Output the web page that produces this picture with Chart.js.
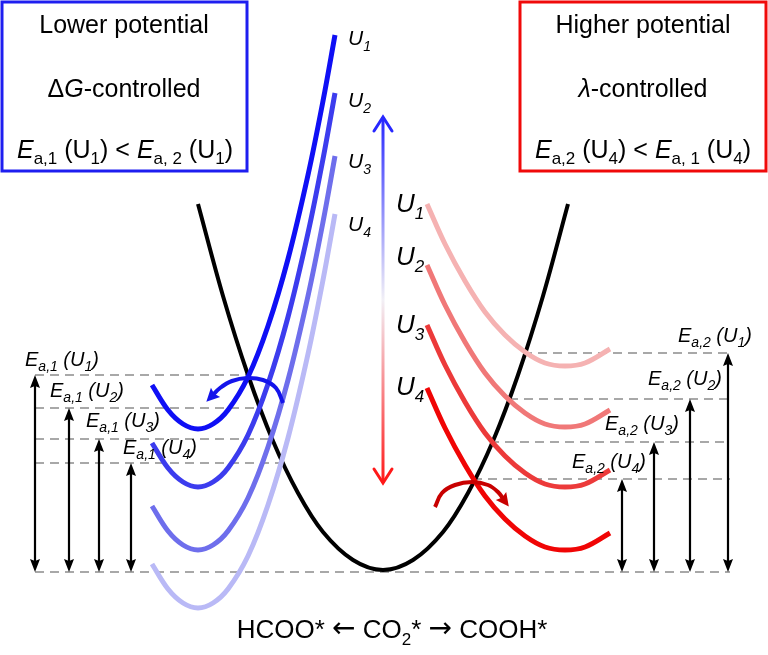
<!DOCTYPE html>
<html>
<head>
<meta charset="utf-8">
<script src="https://cdn.jsdelivr.net/npm/chart.js@4.4.1/dist/chart.umd.min.js"></script>
<style>
  html, body { margin: 0; padding: 0; background: #fff; }
  #chartCanvas { display: block; }
</style>
</head>
<body>
<canvas id="chartCanvas" width="768" height="655"></canvas>
<script>
// free energy curves (x to the right, y downwards)
const blackX = [198, 223, 248, 273, 298, 323, 353, 383, 413, 443, 468, 493, 518, 543, 568];
const blackY = [204, 296, 375, 441, 493, 532, 560, 570, 560, 532, 493, 441, 375, 296, 204];

const blueX = [152, 168, 183, 198, 213, 228, 248, 268, 288, 308, 323, 335];
const blueU1 = [385, 410, 424, 429, 424, 410, 377, 326, 259, 175, 101, 35];
const blueU2 = [443, 468, 482, 487, 482, 468, 435, 384, 317, 233, 159, 93];
const blueU3 = [506, 531, 545, 550, 545, 531, 498, 447, 380, 296, 222, 156];
const blueU4 = [564, 589, 603, 608, 603, 589, 556, 505, 438, 354, 280, 214];

const redX = [427, 445, 465, 485, 505, 525, 545, 565, 585, 610];
const redU1 = [204, 244, 281, 312, 335, 352, 363, 366, 363, 349];
const redU2 = [265, 305, 342, 373, 396, 413, 424, 427, 424, 410];
const redU3 = [325, 365, 402, 433, 456, 473, 484, 487, 484, 470];
const redU4 = [388, 428, 465, 496, 519, 536, 547, 550, 547, 533];

// barrier levels and the double arrows
const baseLevel = 572;
const leftLevels = [375, 408, 439, 463];
const leftCrossX = [247, 258, 272, 282];
const leftArrowX = [35, 69, 99, 131];
const rightLevels = [353, 399, 442, 479];
const rightCrossX = [523, 509, 490, 473];
const rightArrowX = [728, 690, 654, 622];
const dashLeftX = 35;
const dashRightX = 730;

// curved hop arrows and the potential arrow
const blueArcX = [283, 276, 263, 247, 232, 220, 212];
const blueArcY = [403, 388, 380, 378, 381, 388, 396];
const redArcX = [435, 442, 455, 472, 488, 498, 504];
const redArcY = [507, 493, 485, 482, 485, 492, 500];
const potX = [383, 383];
const potY = [117, 483];

const uNames = ['1', '2', '3', '4'];

const FONT = "'Liberation Sans', Arial, sans-serif";
const BLUE = ['rgb(15,15,245)', 'rgb(60,60,238)', 'rgb(110,110,236)', 'rgb(185,185,246)'];
const RED = ['rgb(245,178,178)', 'rgb(240,120,120)', 'rgb(236,58,58)', 'rgb(240,5,5)'];

function curve(xs, ys, color, width, extra) {
  return Object.assign({
    data: xs.map((x, i) => ({ x: x, y: ys[i] })),
    borderColor: color,
    borderWidth: width,
    showLine: true,
    pointRadius: 0,
    tension: 0.35,
    fill: false
  }, extra || {});
}

const datasets = [];
// dashed levels
leftLevels.forEach((lv, i) => {
  datasets.push(curve([dashLeftX, leftCrossX[i]], [lv, lv], '#a8a8a8', 2, { borderDash: [9, 6], tension: 0 }));
});
rightLevels.forEach((lv, i) => {
  datasets.push(curve([rightCrossX[i], dashRightX], [lv, lv], '#a8a8a8', 2, { borderDash: [9, 6], tension: 0 }));
});
datasets.push(curve([dashLeftX, dashRightX], [baseLevel, baseLevel], '#a8a8a8', 2, { borderDash: [9, 6], tension: 0 }));

datasets.push(curve(blackX, blackY, '#000', 4));
[blueU4, blueU3, blueU2, blueU1].forEach((ys, i) => datasets.push(curve(blueX, ys, BLUE[3 - i], 5)));
[redU1, redU2, redU3, redU4].forEach((ys, i) => datasets.push(curve(redX, ys, RED[i], 5)));

// vertical double arrows
leftLevels.forEach((lv, i) => {
  datasets.push(curve([leftArrowX[i], leftArrowX[i]], [lv + 6, baseLevel - 6], '#000', 2.2, { tension: 0 }));
});
rightLevels.forEach((lv, i) => {
  datasets.push(curve([rightArrowX[i], rightArrowX[i]], [lv + 6, baseLevel - 6], '#000', 2.2, { tension: 0 }));
});

const blueArcIdx = datasets.length;
datasets.push(curve(blueArcX, blueArcY, 'rgb(20,20,235)', 4, { tension: 0.4 }));
const redArcIdx = datasets.length;
datasets.push(curve(redArcX, redArcY, 'rgb(200,0,0)', 4, { tension: 0.4 }));

datasets.push(curve(potX, potY, function (ctx) {
  const ch = ctx.chart;
  if (!ch.chartArea) return '#888';
  const y0 = ch.scales.y.getPixelForValue(potY[0]);
  const y1 = ch.scales.y.getPixelForValue(potY[1]);
  const g = ch.ctx.createLinearGradient(0, y0, 0, y1);
  g.addColorStop(0, 'rgb(40,40,255)');
  g.addColorStop(0.5, 'rgb(242,240,246)');
  g.addColorStop(1, 'rgb(255,25,25)');
  return g;
}, 3, { tension: 0 }));

datasets.forEach((d, i) => { d.order = -i; });

// parts: [text, size, italic, dy, family]
function richText(c, x, y, parts, align) {
  const fontOf = p => (p[2] ? 'italic ' : '') + p[1] + 'px ' + (p[4] || FONT);
  let w = 0;
  parts.forEach(p => { c.font = fontOf(p); w += c.measureText(p[0]).width; });
  let cx = align === 'center' ? x - w / 2 : x;
  parts.forEach(p => {
    c.font = fontOf(p);
    c.fillText(p[0], cx, y + (p[3] || 0));
    cx += c.measureText(p[0]).width;
  });
}

function solidHead(c, tx, ty, fx, fy, len, half, color) {
  const a = Math.atan2(ty - fy, tx - fx);
  c.fillStyle = color;
  c.beginPath();
  c.moveTo(tx, ty);
  c.lineTo(tx - len * Math.cos(a) + half * Math.sin(a), ty - len * Math.sin(a) - half * Math.cos(a));
  c.lineTo(tx - len * 0.85 * Math.cos(a), ty - len * 0.85 * Math.sin(a));
  c.lineTo(tx - len * Math.cos(a) - half * Math.sin(a), ty - len * Math.sin(a) + half * Math.cos(a));
  c.closePath();
  c.fill();
}

function openHead(c, tx, ty, dir, len, half, color) {
  c.strokeStyle = color;
  c.lineWidth = 3;
  c.lineCap = 'round';
  c.beginPath();
  c.moveTo(tx - half, ty - dir * len);
  c.lineTo(tx, ty);
  c.lineTo(tx + half, ty - dir * len);
  c.stroke();
}

const decor = {
  id: 'decor',
  afterDatasetsDraw(chart) {
    const c = chart.ctx;
    const px = v => chart.scales.x.getPixelForValue(v);
    const py = v => chart.scales.y.getPixelForValue(v);
    c.save();

    // the two framed captions
    c.lineWidth = 3;
    c.strokeStyle = 'rgb(30,30,240)';
    c.strokeRect(px(2), py(2), px(247) - px(2), py(171) - py(2));
    c.strokeStyle = 'rgb(240,10,10)';
    c.strokeRect(px(520), py(2), px(766) - px(520), py(171) - py(2));

    c.fillStyle = '#000';
    c.textBaseline = 'alphabetic';
    richText(c, px(124), py(33), [['Lower potential', 25]], 'center');
    richText(c, px(124), py(97), [['\u0394', 25], ['G', 25, true], ['-controlled', 25]], 'center');
    richText(c, px(125), py(158), [['E', 25, true], ['a,1', 17, false, 6], [' (U', 25], ['1', 17, false, 6],
      [') < ', 25], ['E', 25, true], ['a, 2', 17, false, 6], [' (U', 25], ['1', 17, false, 6], [')', 25]], 'center');
    richText(c, px(643), py(33), [['Higher potential', 25]], 'center');
    richText(c, px(643), py(97), [['\u03bb', 25, true], ['-controlled', 25]], 'center');
    richText(c, px(643), py(158), [['E', 25, true], ['a,2', 17, false, 6], [' (U', 25], ['4', 17, false, 6],
      [') < ', 25], ['E', 25, true], ['a, 1', 17, false, 6], [' (U', 25], ['4', 17, false, 6], [')', 25]], 'center');

    // arrowheads of the barrier arrows
    leftLevels.forEach((lv, i) => {
      solidHead(c, px(leftArrowX[i]), py(lv), px(leftArrowX[i]), py(lv + 20), 13, 5, '#000');
      solidHead(c, px(leftArrowX[i]), py(baseLevel), px(leftArrowX[i]), py(baseLevel - 20), 13, 5, '#000');
    });
    rightLevels.forEach((lv, i) => {
      solidHead(c, px(rightArrowX[i]), py(lv), px(rightArrowX[i]), py(lv + 20), 13, 5, '#000');
      solidHead(c, px(rightArrowX[i]), py(baseLevel), px(rightArrowX[i]), py(baseLevel - 20), 13, 5, '#000');
    });

    // hop arrows: head follows the last segment of each arc
    [[blueArcIdx, 'rgb(20,20,235)'], [redArcIdx, 'rgb(200,0,0)']].forEach(([idx, col]) => {
      const pts = chart.getDatasetMeta(idx).data;
      const a = pts[pts.length - 2], b = pts[pts.length - 1];
      const ang = Math.atan2(b.y - a.y, b.x - a.x);
      solidHead(c, b.x + 8 * Math.cos(ang), b.y + 8 * Math.sin(ang), b.x, b.y, 13, 6.5, col);
    });

    // potential arrow heads
    openHead(c, px(potX[0]), py(potY[0]), -1, 14, 9, 'rgb(40,40,255)');
    openHead(c, px(potX[1]), py(potY[1]), 1, 14, 9, 'rgb(255,25,25)');

    // labels
    c.fillStyle = '#000';
    const blueBase = [45, 107, 168, 231];
    const redBase = [212, 265, 333, 395];
    uNames.forEach((n, i) => {
      richText(c, px(348), py(blueBase[i]), [['U', 21, true], [n, 14, true, 6]]);
      richText(c, px(396), py(redBase[i]), [['U', 26, true], [n, 17, true, 7]]);
    });
    const leftPos = [[25, 366], [50, 397], [86, 427], [123, 454]];
    const rightPos = [[678, 342], [648, 385], [605, 430], [572, 468]];
    uNames.forEach((n, i) => {
      richText(c, px(leftPos[i][0]), py(leftPos[i][1]),
        [['E', 20, true], ['a,1', 14, true, 5], [' (U', 20, true], [n, 14, true, 5], [')', 20, true]]);
      richText(c, px(rightPos[i][0]), py(rightPos[i][1]),
        [['E', 20, true], ['a,2', 14, true, 5], [' (U', 20, true], [n, 14, true, 5], [')', 20, true]]);
    });

    const arrowFont = "'DejaVu Sans', sans-serif";
    richText(c, px(392), py(638), [['HCOO* ', 26], ['\u2190', 28, false, -1, arrowFont], [' CO', 26],
      ['2', 17, false, 7], ['* ', 26], ['\u2192', 28, false, -1, arrowFont], [' COOH*', 26]], 'center');
    c.restore();
  }
};

new Chart(document.getElementById('chartCanvas').getContext('2d'), {
  type: 'scatter',
  data: { datasets: datasets },
  options: {
    responsive: false,
    devicePixelRatio: 1,
    animation: false,
    layout: { padding: 0 },
    plugins: { legend: { display: false }, tooltip: { enabled: false } },
    scales: {
      x: { type: 'linear', min: 0, max: 768, display: false },
      y: { type: 'linear', min: 0, max: 655, reverse: true, display: false }
    }
  },
  plugins: [decor]
});
</script>
</body>
</html>
